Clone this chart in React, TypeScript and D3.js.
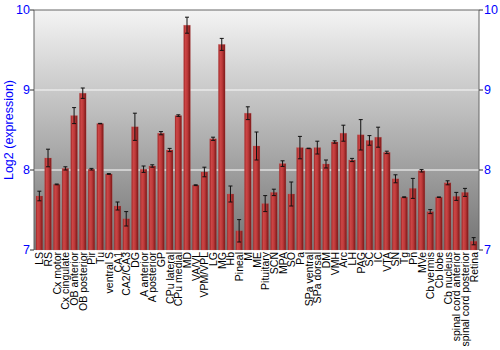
import React from "react";
import * as d3 from "d3";

const categories = ["LS","RS","Cx motor","Cx cingulate","OB anterior","OB posterior","Pir","Tu","ventral S","CA1","CA2/CA3","DG","A anterior","A posterior","GP","CPu lateral","CPu medial","MD","VA/VL","VPM/VPL","LG","MG","Hb","Pineal","M","ME","Pituitary","SCN","MPA","SO","Pa","SPa ventral","SPa dorsal","DM","VMH","Arc","LH","PAG","SC","IC","VTA","SN","Tg","Pn","MVe","Cb vermis","Cb lobe","Cb nucleus","spinal cord anterior","spinal cord posterior","Retina"];

const values = [7.675,8.15,7.82,8.02,8.68,8.96,8.01,8.58,7.95,7.55,7.39,8.54,8.01,8.05,8.46,8.25,8.68,9.81,7.81,7.975,8.39,9.57,7.70,7.24,8.71,8.30,7.58,7.72,8.08,7.70,8.28,8.27,8.28,8.075,8.35,8.46,8.125,8.44,8.37,8.41,8.22,7.89,7.66,7.77,7.99,7.48,7.66,7.84,7.67,7.72,7.11];

const errors = [0.06,0.11,0.005,0.02,0.1,0.065,0.01,0.003,0.005,0.05,0.09,0.17,0.04,0.015,0.02,0.02,0.01,0.1,0.005,0.06,0.02,0.075,0.1,0.14,0.08,0.175,0.1,0.04,0.035,0.15,0.14,0.003,0.08,0.05,0.015,0.1,0.02,0.19,0.06,0.125,0.015,0.05,0.005,0.125,0.015,0.025,0.003,0.025,0.05,0.05,0.045];

const yTicks = [7, 8, 9, 10];
const gridValues = [8, 9];

const W = 500, H = 350;
const left = 34, right = 479, top = 10, bottom = 250;

export default function App() {
  const x = d3.scaleBand<string>().domain(categories).range([left, right]).paddingInner(0.23).paddingOuter(0.23);
  const y = d3.scaleLinear().domain([7, 10]).range([bottom, top]);
  const bw = x.bandwidth();
  const font = "'Liberation Sans', Arial, sans-serif";
  return (
    <svg width={W} height={H} style={{ position: "absolute", left: 0, top: 0, background: "#fff" }} fontFamily={font}>
      <defs>
        <linearGradient id="bg" x1="0" y1="0" x2="0" y2="1">
          <stop offset="0" stopColor="#f4f4f4" />
          <stop offset="1" stopColor="#747474" />
        </linearGradient>
        <linearGradient id="bar" x1="0" y1="0" x2="1" y2="0">
          <stop offset="0" stopColor="#9a2222" />
          <stop offset="0.25" stopColor="#cc4646" />
          <stop offset="0.55" stopColor="#be3a3a" />
          <stop offset="1" stopColor="#7a1616" />
        </linearGradient>
      </defs>
      <rect x={left} y={top} width={right - left} height={bottom - top} fill="url(#bg)" />
      {gridValues.map((g) => (
        <line key={g} x1={left} x2={right} y1={y(g)} y2={y(g)} stroke="#fff" strokeWidth={g === 9 ? 1.5 : 1.2} strokeOpacity={g === 9 ? 0.6 : 1} />
      ))}
      {categories.map((c, i) => {
        const x0 = x(c)!;
        const cx = x0 + bw / 2;
        const v = values[i];
        const e = errors[i];
        return (
          <g key={c}>
            <rect x={x0} y={y(v)} width={bw} height={y(7) - y(v)} fill="url(#bar)" stroke="#c85a5a" strokeOpacity={0.35} strokeWidth={0.6} />
            <line x1={cx} x2={cx} y1={y(v + e)} y2={y(v - e)} stroke="#111" strokeWidth={1} />
            <line x1={cx - 2} x2={cx + 2} y1={y(v + e)} y2={y(v + e)} stroke="#111" strokeWidth={1} />
            <line x1={cx - 2} x2={cx + 2} y1={y(v - e)} y2={y(v - e)} stroke="#111" strokeWidth={1} />
            <text transform={`translate(${cx + 4},${bottom + 2}) rotate(-90)`} textAnchor="end" fontSize={10.5} fill="#000">{c}</text>
          </g>
        );
      })}
      <line x1={left} x2={right} y1={top} y2={top} stroke="#666" />
      <line x1={left} x2={left} y1={top} y2={bottom} stroke="#666" />
      <line x1={right} x2={right} y1={top} y2={bottom} stroke="#666" />
      {yTicks.map((t) => (
        <g key={t}>
          <line x1={left - 4} x2={left} y1={y(t)} y2={y(t)} stroke="#333" />
          <line x1={right} x2={right + 4} y1={y(t)} y2={y(t)} stroke="#333" />
          <text x={left - 4} y={y(t)} dy="0.35em" textAnchor="end" fontSize={12.5} fill="#0000ff">{t}</text>
          <text x={right + 5} y={y(t)} dy="0.35em" textAnchor="start" fontSize={12.5} fill="#0000ff">{t}</text>
        </g>
      ))}
      <text transform={`translate(12.5,${(top + bottom) / 2}) rotate(-90)`} textAnchor="middle" fontSize={12.5} fill="#0000ff">Log2 (expression)</text>
    </svg>
  );
}
